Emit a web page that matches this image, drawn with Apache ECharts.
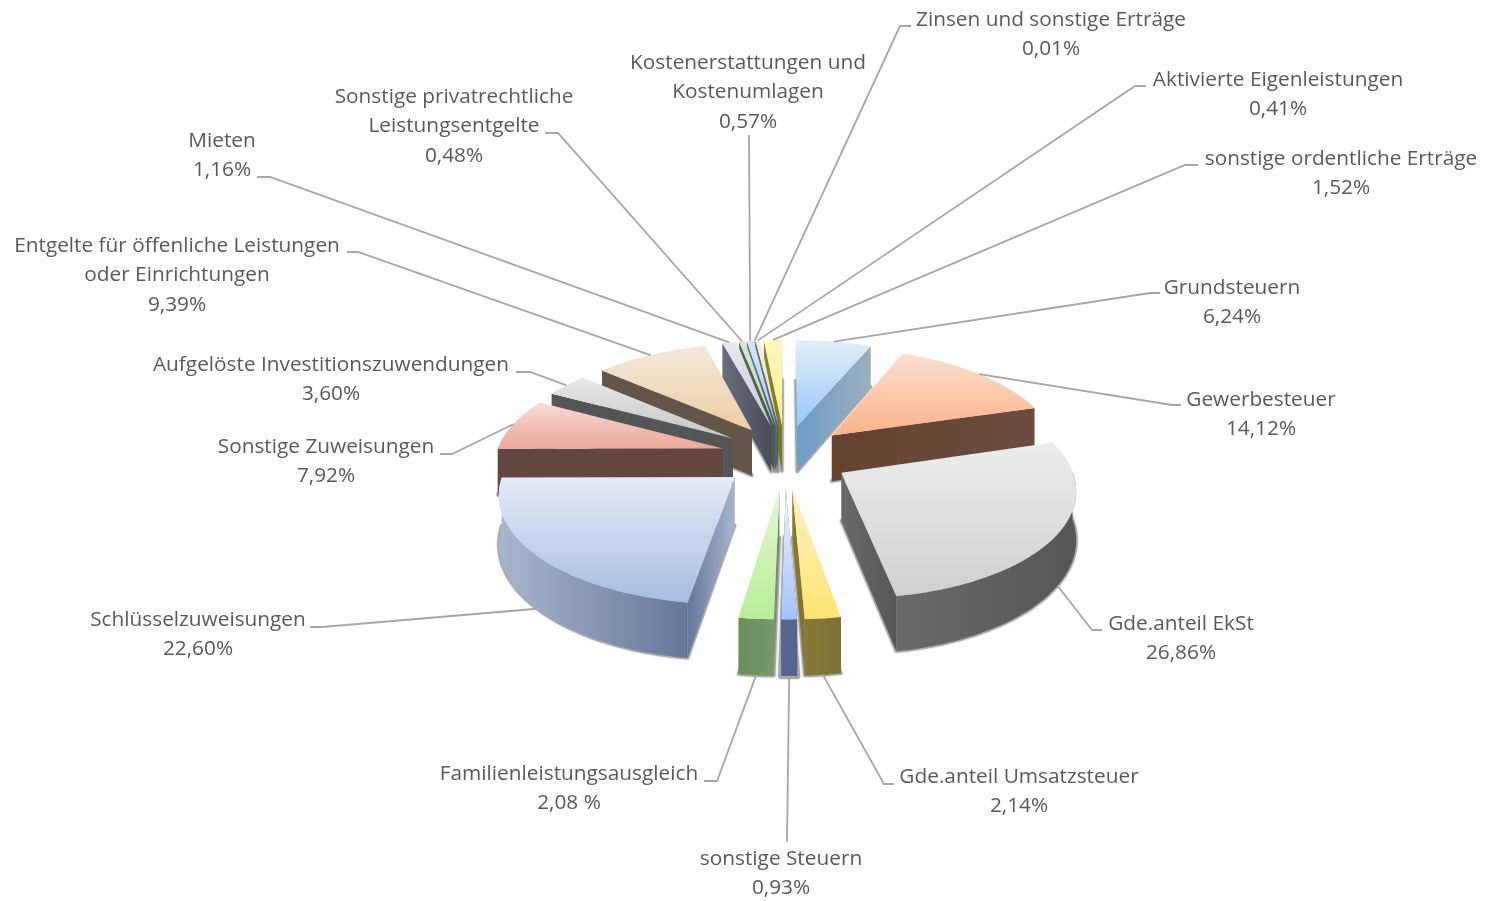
<!DOCTYPE html>
<html>
<head>
<meta charset="utf-8">
<title>Erträge</title>
<script src="https://cdn.jsdelivr.net/npm/echarts@6/dist/echarts.min.js"></script>
<style>
html, body { margin: 0; padding: 0; background: #fff; }
#chart { width: 1485px; height: 901px; }
</style>
</head>
<body>
<div id="chart"></div>
<script>
// Anteile je Ertragsart, im Uhrzeigersinn ab 12 Uhr
var categories = ['Grundsteuern', 'Gewerbesteuer', 'Gde.anteil EkSt', 'Gde.anteil Umsatzsteuer', 'sonstige Steuern',
    'Familienleistungsausgleich', 'Schlüsselzuweisungen', 'Sonstige Zuweisungen', 'Aufgelöste Investitionszuwendungen',
    'Entgelte für öffenliche Leistungen\noder Einrichtungen', 'Mieten', 'Sonstige privatrechtliche\nLeistungsentgelte',
    'Kostenerstattungen und\nKostenumlagen', 'Zinsen und sonstige Erträge', 'Aktivierte Eigenleistungen', 'sonstige ordentliche Erträge'];
var values = [6.24, 14.12, 26.86, 2.14, 0.93, 2.08, 22.60, 7.92, 3.60, 9.39, 1.16, 0.48, 0.57, 0.01, 0.41, 1.52];
var pctLabels = ['6,24%', '14,12%', '26,86%', '2,14%', '0,93%', '2,08 %', '22,60%', '7,92%', '3,60%', '9,39%', '1,16%', '0,48%', '0,57%', '0,01%', '0,41%', '1,52%'];

// Farben: Deckfläche hell/satt, Wand links/rechts (Startwände werden gespiegelt)
var topColors = [['#e2eefa', '#99c8fa'], ['#fbdfd0', '#fcb28a'], ['#ededed', '#cfcfcf'], ['#fdf1c6', '#ffe470'],
    ['#f0f4ff', '#a6c2fc'], ['#e6f6da', '#b6ee98'], ['#e5ebf6', '#a5bee3'], ['#f6dcd6', '#eba797'],
    ['#e8e8e8', '#c6c6c6'], ['#f6e8da', '#ebcea2'], ['#e6e8f2', '#c4cbe0'], ['#dde6d2', '#c6d6b4'],
    ['#d2e6f8', '#a8d0f4'], ['#e0e0e0', '#c0c0c0'], ['#f0f0f0', '#dcdcdc'], ['#fbf7c0', '#fbef88']];
var wallColors = [['#6e9cc6', '#9cb0c0'], ['#64432f', '#6b4c3e'], ['#6a6a6a', '#565656'], ['#8a7a36', '#7e7038'],
    ['#56668f', '#56668f'], ['#6a8f5c', '#76986a'], ['#a8b6ce', '#65779a'], ['#624640', '#624640'],
    ['#555555', '#555555'], ['#64554a', '#64554a'], ['#474c5c', '#6a6e7a'], ['#4a5a44', '#5a6a50'],
    ['#3f6878', '#4f7a90'], ['#666666', '#666666'], ['#555555', '#555555'], ['#76762a', '#8a8a30']];

// Beschriftung: Textmitte x, erste Zeile y, Knick- und Endpunkt der Führungslinie
var labelLayout = [
    [1232, 288, [[1150, 293], [1160, 293]]], [1261, 400, [[1172, 405], [1181, 405]]],
    [1181, 624, [[1092, 630], [1102, 630]]], [1019, 777, [[884, 784], [894, 784]]],
    [781, 859, [[787, 842]]], [569, 774, [[717, 781], [704, 781]]],
    [198, 620, [[322, 627], [310, 627]]], [326, 447, [[452, 454], [440, 454]]],
    [331, 365, [[530, 372], [516, 372]]], [177, 246, [[358, 252], [347, 252]]],
    [222, 141, [[270, 177], [257, 177]]], [454, 97, [[558, 133], [545, 133]]],
    [748, 63, [[749, 135]]], [1051, 20, [[900, 26], [911, 26]]],
    [1278, 80, [[1135, 86], [1146, 86]]], [1341, 159, [[1185, 165], [1198, 165]]]
];

var CX = 785, CY = 456, RX = 227, RY = 104.5, PERSP = 0.13, DEPTH = 47, EX = 0.285, EY = 0.3, LINE_H = 29.5;

var total = values.reduce(function (a, b) { return a + b; }, 0);
var starts = [], mids = [];
values.reduce(function (sum, v) {
    starts.push(sum);
    mids.push(sum + v / 2);
    return sum + v;
}, 0);
var order = values.map(function (v, i) { return i; }).sort(function (a, b) {
    return Math.cos(toRad(mids[b])) - Math.cos(toRad(mids[a]));
});

function toRad(v) { return v / total * Math.PI * 2; }

function proj(u, v, drop) {
    var w = 1 + PERSP * v;
    return [CX + RX * u / w, CY - RY * v / w + (drop ? DEPTH / w : 0)];
}

function hGrad(c0, c1) { return new echarts.graphic.LinearGradient(0, 0, 1, 0, [{ offset: 0, color: c0 }, { offset: 1, color: c1 }]); }
function vGrad(c0, c1) { return new echarts.graphic.LinearGradient(0, 0, 0, 1, [{ offset: 0, color: c0 }, { offset: 1, color: c1 }]); }

function renderSlice(params, api) {
    var i = params.dataIndex, val = api.value(0);
    var a0 = toRad(starts[i]), a1 = toRad(starts[i] + val), am = toRad(mids[i]);
    var ou = EX * Math.sin(am), ov = EY * Math.cos(am);
    var n = Math.max(2, Math.ceil((a1 - a0) / 0.02));
    var arcTop = [], arcBot = [], frontTop = [], frontBot = [];
    for (var k = 0; k <= n; k++) {
        var a = a0 + (a1 - a0) * k / n;
        var pt = proj(ou + Math.sin(a), ov + Math.cos(a), false);
        var pb = proj(ou + Math.sin(a), ov + Math.cos(a), true);
        arcTop.push(pt);
        arcBot.push(pb);
        // nur der zum Betrachter zeigende Teil der Außenwand
        if (Math.cos(a) <= 0.02) {
            frontTop.push(pt);
            frontBot.push(pb);
        }
    }
    var apexTop = proj(ou, ov, false), apexBot = proj(ou, ov, true);
    var base = order.indexOf(i) * 10;
    var wall = wallColors[i];
    // Schatten auf dem Boden, beim schmalen Segment vorne breiter
    var narrowFront = val < 1 && Math.cos(am) < 0;
    var children = [
        { type: 'polygon', z2: base, shape: { points: [apexBot].concat(arcBot) },
            style: { fill: '#a8a8a8', stroke: '#a8a8a8', lineWidth: narrowFront ? 6 : 3, lineJoin: 'round', shadowBlur: 2, shadowColor: 'rgba(120,120,120,0.5)' } }
    ];
    if (Math.sin(a0) < 0.05) {
        children.push({ type: 'polygon', z2: base + 1, shape: { points: [apexTop, arcTop[0], arcBot[0], apexBot] },
            style: { fill: hGrad(wall[1], wall[0]) } });
    }
    if (Math.sin(a1) > -0.05) {
        children.push({ type: 'polygon', z2: base + 1, shape: { points: [apexTop, arcTop[n], arcBot[n], apexBot] },
            style: { fill: hGrad(wall[0], wall[1]) } });
    }
    if (frontTop.length > 1) {
        children.push({ type: 'polygon', z2: base + 2, shape: { points: frontTop.concat(frontBot.slice().reverse()) },
            style: { fill: hGrad(wall[0], wall[1]) } });
    }
    children.push({ type: 'polygon', z2: base + 3, shape: { points: [apexTop].concat(arcTop) },
        style: { fill: vGrad(topColors[i][0], topColors[i][1]) } });
    // Führungslinie beginnt am Außenrand der Mitte des Segments
    var front = Math.cos(am) < -0.3;
    var from = proj(ou + Math.sin(am), ov + Math.cos(am), front);
    var lay = labelLayout[i];
    children.push({ type: 'polyline', z2: 500, shape: { points: [from].concat(lay[2]) },
        style: { stroke: '#a6a6a6', lineWidth: 1.8, fill: null } });
    children.push({ type: 'text', z2: 501, x: lay[0], y: lay[1] - LINE_H / 2,
        style: { text: categories[i] + '\n' + pctLabels[i], textAlign: 'center', textVerticalAlign: 'top',
            fontFamily: '"Open Sans"', fontSize: 20.8, lineHeight: LINE_H, fill: '#595959' } });
    return { type: 'group', children: children };
}

var chart = echarts.init(document.getElementById('chart'));
chart.setOption({
    animation: false,
    backgroundColor: '#fff',
    series: [{
        type: 'custom',
        coordinateSystem: 'none',
        silent: true,
        renderItem: renderSlice,
        data: values.map(function (v, i) { return { name: categories[i], value: [v] }; })
    }]
});
</script>
</body>
</html>
